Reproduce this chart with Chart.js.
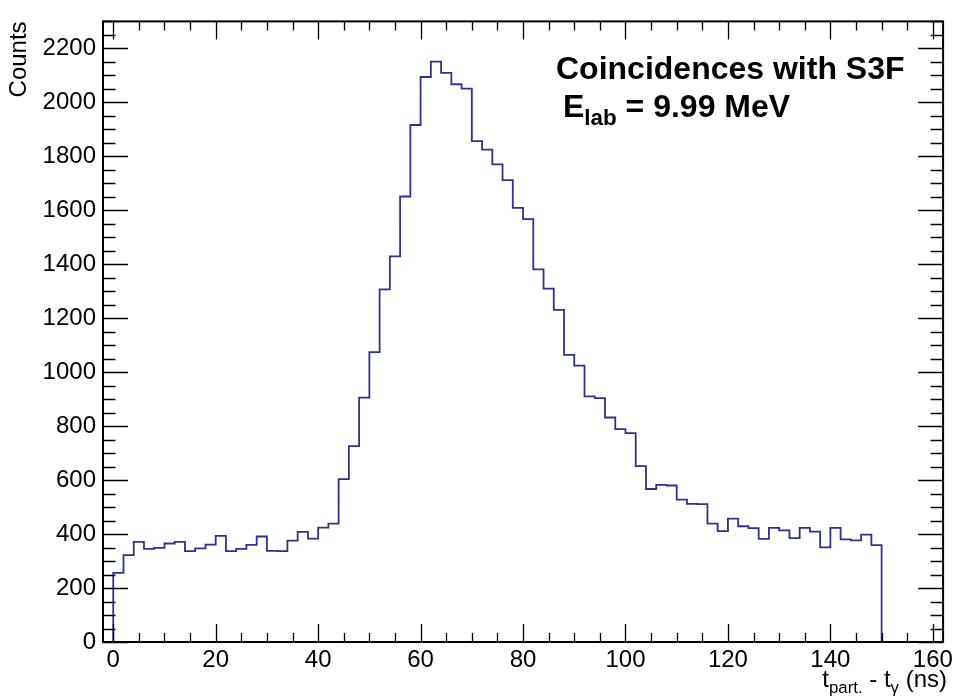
<!DOCTYPE html>
<html>
<head>
<meta charset="utf-8">
<title>Coincidences with S3F</title>
<script src="https://cdn.jsdelivr.net/npm/chart.js@4.4.0/dist/chart.umd.min.js"></script>
<style>
  html, body { margin: 0; padding: 0; background: #fff; }
  #wrap { position: relative; width: 957px; height: 700px; font-family: "Liberation Sans", Arial, sans-serif; }
  #wrap canvas { position: absolute; left: 0; top: 0; }
  .txt { position: absolute; white-space: nowrap; color: #000; line-height: 1; }
  .sub { font-size: 0.7em; position: relative; top: 0.35em; }
  #txt-title { left: 556px; top: 52px; font-size: 32px; font-weight: bold; }
  #txt-energy { left: 563px; top: 90px; font-size: 32px; font-weight: bold; }
  #txt-xaxis { right: 10px; top: 667px; font-size: 24px; }
</style>
</head>
<body>
<div id="wrap">
  <canvas id="histo" width="957" height="700"></canvas>
  <div class="txt" id="txt-title">Coincidences with S3F</div>
  <div class="txt" id="txt-energy">E<span class="sub">lab</span> = 9.99 MeV</div>
  <div class="txt" id="txt-xaxis">t<span class="sub">part.</span> - t<span class="sub">γ</span> (ns)</div>
</div>
<script>
// histogram: bins of 2 ns starting at 0 ns
const binStart = 0;
const binWidth = 2;
const counts = [
  256, 322, 371, 345, 349, 365, 371, 337, 347, 361,
  393, 337, 345, 360, 391, 338, 337, 376, 408, 383,
  424, 439, 604, 726, 906, 1074, 1307, 1429, 1651, 1916,
  2094, 2151, 2109, 2067, 2051, 1856, 1825, 1770, 1712, 1609,
  1567, 1381, 1310, 1231, 1064, 1024, 910, 904, 832, 789,
  774, 652, 567, 582, 580, 528, 512, 511, 439, 411,
  457, 429, 422, 382, 423, 414, 385, 423, 409, 351,
  423, 380, 377, 398, 359
];

// axis ranges and labelled ticks
const xRange = [-2, 162];
const yRange = [0, 2300];
const xTickLabels = [0, 20, 40, 60, 80, 100, 120, 140, 160];
const yTickLabels = [0, 200, 400, 600, 800, 1000, 1200, 1400, 1600, 1800, 2000, 2200];

const FONT = "'Liberation Sans', Arial, sans-serif";

// step outline: empty below 0, the bins, then empty up to the end of the axis
const histPoints = [{ x: xRange[0], y: 0 }];
counts.forEach((c, i) => histPoints.push({ x: binStart + i * binWidth, y: c }));
histPoints.push({ x: binStart + counts.length * binWidth, y: 0 });
histPoints.push({ x: xRange[1], y: 0 });

// ROOT-like frame: box plus inward ticks on all four sides
const rootFrame = {
  id: 'rootFrame',
  afterDatasetsDraw(chart) {
    const { ctx, chartArea: a } = chart;
    const x = chart.scales.x, y = chart.scales.y;
    ctx.save();
    ctx.strokeStyle = '#000';
    ctx.lineWidth = 1.3;
    ctx.beginPath();
    for (let v = 0; v <= xRange[1]; v += 5) {
      const px = Math.round(x.getPixelForValue(v)) + 0.5;
      const len = v % 20 === 0 ? 18 : 9;
      ctx.moveTo(px, a.bottom); ctx.lineTo(px, a.bottom - len);
      ctx.moveTo(px, a.top); ctx.lineTo(px, a.top + len);
    }
    for (let v = 0; v <= yRange[1]; v += 50) {
      const py = Math.round(y.getPixelForValue(v)) + 0.5;
      const len = v % 200 === 0 ? 25 : 12.5;
      ctx.moveTo(a.left, py); ctx.lineTo(a.left + len, py);
      ctx.moveTo(a.right, py); ctx.lineTo(a.right - len, py);
    }
    ctx.stroke();
    ctx.lineWidth = 2;
    ctx.strokeRect(a.left, a.top, a.right - a.left, a.bottom - a.top);
    ctx.restore();
  }
};

new Chart(document.getElementById('histo'), {
  type: 'line',
  data: {
    datasets: [{
      data: histPoints,
      stepped: true,
      borderColor: '#2e3192',
      borderWidth: 1.8,
      pointRadius: 0,
      fill: false
    }]
  },
  options: {
    responsive: false,
    animation: false,
    layout: { padding: { left: 0, top: 20, right: 11, bottom: 0 } },
    plugins: { legend: { display: false }, tooltip: { enabled: false } },
    scales: {
      x: {
        type: 'linear',
        min: xRange[0],
        max: xRange[1],
        afterBuildTicks: s => { s.ticks = xTickLabels.map(v => ({ value: v })); },
        afterFit: s => { s.height = 58; },
        grid: { display: false, drawTicks: false },
        border: { display: false },
        ticks: { color: '#000', font: { family: FONT, size: 24 }, padding: 4, maxRotation: 0, autoSkip: false,
                 callback: v => String(v) }
      },
      y: {
        min: yRange[0],
        max: yRange[1],
        afterBuildTicks: s => { s.ticks = yTickLabels.map(v => ({ value: v })); },
        afterFit: s => { s.width = 103; },
        grid: { display: false, drawTicks: false },
        border: { display: false },
        ticks: { color: '#000', font: { family: FONT, size: 24 }, padding: 7, autoSkip: false,
                 callback: v => String(v) },
        title: {
          display: true,
          text: 'Counts',
          align: 'end',
          color: '#000',
          font: { family: FONT, size: 24 },
          padding: { top: 5, bottom: 0 }
        }
      }
    }
  },
  plugins: [rootFrame]
});
</script>
</body>
</html>
